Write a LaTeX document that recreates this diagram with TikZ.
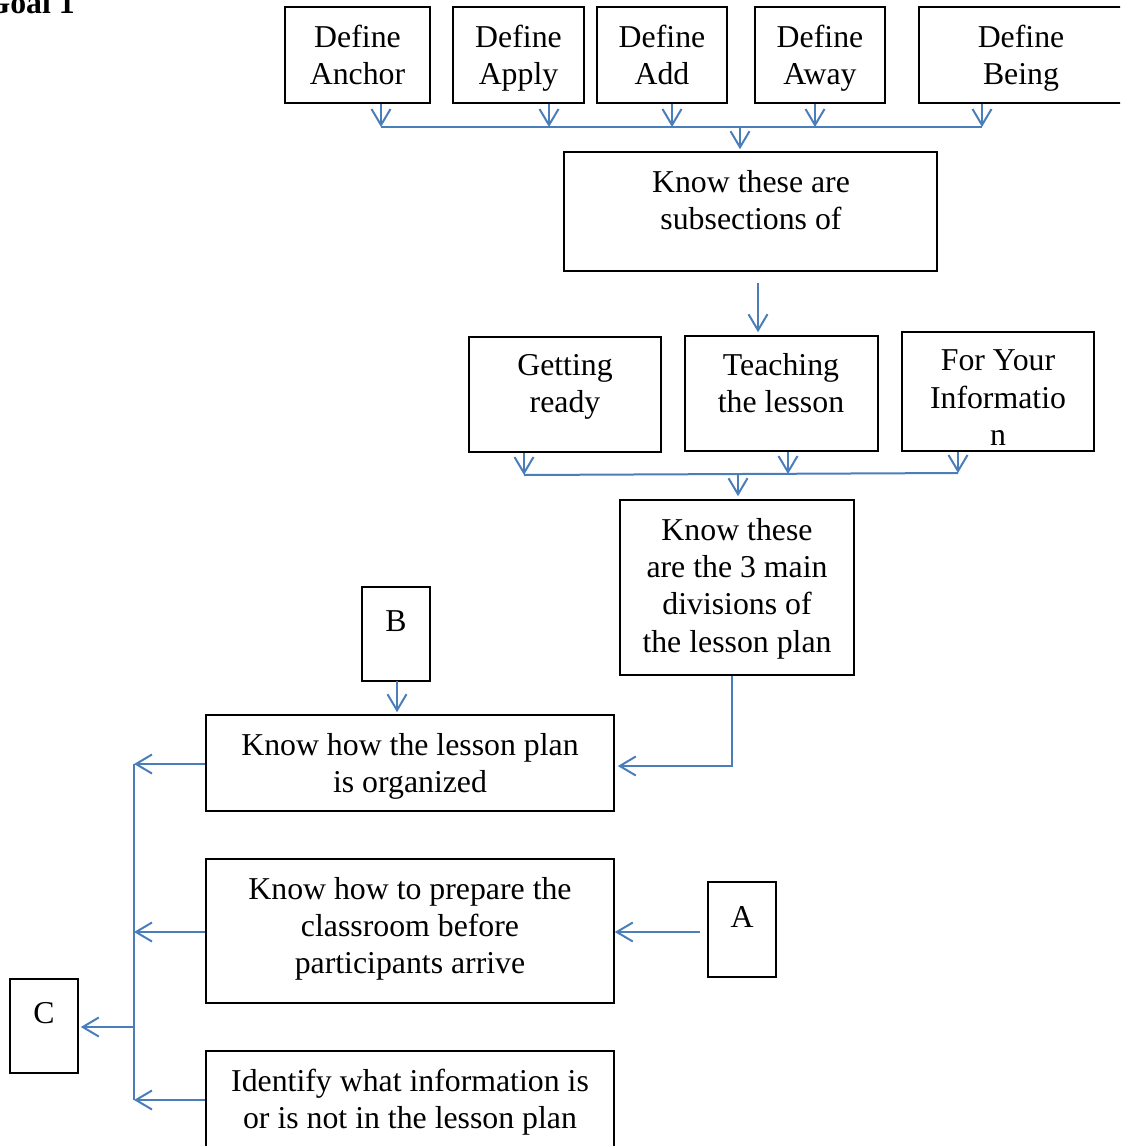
\documentclass[tikz,border=0pt]{standalone}
\usepackage{fontspec}
\setmainfont{Liberation Serif}
\usetikzlibrary{arrows.meta}
\definecolor{linkblue}{RGB}{74,126,187}
\newcommand{\boxfont}{\fontsize{31.8}{37.3}\selectfont}
\begin{document}
\begin{tikzpicture}[x=1pt,y=-1pt,
  frame/.style={draw=black, line width=1.6pt, inner sep=0pt, rectangle},
  txt/.style={align=center, inner sep=0pt, anchor=north, font=\boxfont,
              execute at begin node=\strut},
  wire/.style={draw=linkblue, line width=2pt},
  arr/.style={wire, -{Straight Barb[length=16pt,width=19pt]}}]
\clip (0,0) rectangle (1120,1146);

% rectangles: centre, width, height
\newcommand{\frm}[5]{\node[frame, minimum width=#4pt, minimum height=#5pt] (#1) at (#2,#3) {};}
\frm{anchor}{357.5}{55}{145}{96}
\frm{apply}{518.5}{55}{131}{96}
\frm{add}{662}{55}{130}{96}
\frm{away}{820}{55}{130}{96}
\frm{being}{1021}{55}{204}{96}
\frm{subs}{750.5}{211.5}{373}{119}
\frm{ready}{565}{394.5}{192}{115}
\frm{teach}{781.5}{393.5}{193}{115}
\frm{fyi}{998}{391.5}{192}{119}
\frm{divs}{737}{587.5}{234}{175}
\frm{bbox}{396}{634}{68}{94}
\frm{org}{410}{763}{408}{96}
\frm{prep}{410}{931}{408}{144}
\frm{abox}{742}{929.5}{68}{95}
\frm{cbox}{44}{1026}{68}{94}
\frm{ident}{410}{1100}{408}{98}

% texts
\node[anchor=base east, inner sep=0pt, font=\boxfont\bfseries] (goal) at (75,13) {Goal 1};
\node[txt] (tanchor) at (357.5,24.9) {Define\\Anchor};
\node[txt] (tapply) at (518.5,24.9) {Define\\Apply};
\node[txt] (tadd) at (662,24.9) {Define\\Add};
\node[txt] (taway) at (820,24.9) {Define\\Away};
\node[txt] (tbeing) at (1021,24.9) {Define\\Being};
\node[txt] (tsubs) at (751,169.9) {Know these are\\subsections of};
\node[txt] (tready) at (565,353.9) {Getting\\ready};
\node[txt] (tteach) at (781,352.9) {Teaching\\the lesson};
\node[txt] (tfyi) at (998,349.9) {For Your\\Informatio\\n};
\node[txt] (tdivs) at (737,517.9) {Know these\\are the 3 main\\divisions of\\the lesson plan};
\node[txt] (tb) at (396,604.9) {B};
\node[txt] (torg) at (410,732.9) {Know how the lesson plan\\is organized};
\node[txt] (tprep) at (410,876.9) {Know how to prepare the\\classroom before\\participants arrive};
\node[txt] (ta) at (742,900.9) {A};
\node[txt] (tc) at (44,996.9) {C};
\node[txt] (tident) at (410,1068.9) {Identify what information is\\or is not in the lesson plan};

% first collector bar
\coordinate (u1) at (381,127);
\coordinate (u2) at (549,127);
\coordinate (u3) at (672,127);
\coordinate (u4) at (815,127);
\coordinate (u5) at (982,127);
\coordinate (um) at (740,127);
\draw[wire] (u1) -- (u5);
\draw[arr] (u1 |- anchor.south) -- (u1);
\draw[arr] (u2 |- apply.south) -- (u2);
\draw[arr] (u3 |- add.south) -- (u3);
\draw[arr] (u4 |- away.south) -- (u4);
\draw[arr] (u5 |- being.south) -- (u5);
\draw[arr, shorten >=2pt] (um) -- (um |- subs.north);

% subsections to the three divisions
\coordinate (s1) at (758,283);
\draw[arr, shorten >=3pt] (s1) -- (s1 |- teach.north);

% second collector bar
\coordinate (v1) at (524,475);
\coordinate (v2) at (788,474);
\coordinate (v3) at (958,473);
\coordinate (vm) at (738,475);
\draw[wire] (v1) -- (v3);
\draw[arr] (v1 |- ready.south) -- (v1);
\draw[arr] (v2 |- teach.south) -- (v2);
\draw[arr] (v3 |- fyi.south) -- (v3);
\draw[arr, shorten >=3pt] (vm) -- (vm |- divs.north);

% into the organisation box
\coordinate (d1) at (732,766);
\draw[arr, shorten >=3pt] (d1 |- divs.south) -- (d1) -- (d1 -| org.east);
\coordinate (bb) at (397,681);
\draw[arr, shorten >=2pt] (bb) -- (bb |- org.north);
\coordinate (aa) at (700,932);
\draw[arr] (aa) -- (aa -| prep.east);

% left collector to C
\coordinate (w1) at (134,764);
\coordinate (w2) at (134,932);
\coordinate (w3) at (134,1100);
\coordinate (wc) at (134,1027);
\draw[wire] (w1) -- (w3);
\draw[arr] (w1 -| org.west) -- (w1);
\draw[arr] (w2 -| prep.west) -- (w2);
\draw[arr] (w3 -| ident.west) -- (w3);
\draw[arr, shorten >=2pt] (wc) -- (wc -| cbox.east);
\end{tikzpicture}
\end{document}
